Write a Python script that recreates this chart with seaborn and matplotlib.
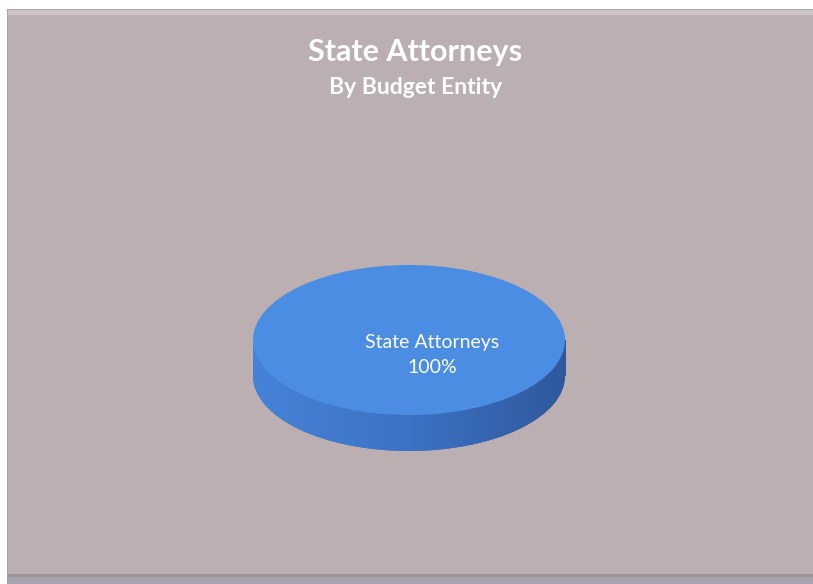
import numpy as np
import matplotlib
matplotlib.use("Agg")
import matplotlib.pyplot as plt
from matplotlib.patches import Rectangle
import seaborn as sns

# Budget share by entity
entities = ["State Attorneys"]
shares = [100.0]
title = "State Attorneys"
subtitle = "By Budget Entity"

sns.set_theme(style="white")
plt.rcParams["font.family"] = ["Lato", "DejaVu Sans"]

W, H = 813, 584
fig = plt.figure(figsize=(W / 100, H / 100), dpi=100, facecolor="white")

# Panel behind the chart
def px_rect(x0, y0, x1, y1, color, z=0):
    fig.patches.append(Rectangle((x0 / W, 1 - y1 / H), (x1 - x0) / W, (y1 - y0) / H,
                                 transform=fig.transFigure, facecolor=color,
                                 edgecolor="none", zorder=z))

px_rect(7, 9, W, H, "#a8a2b0", -3)
px_rect(8, 10, W, 576, "#bbafb1", -2)
px_rect(8, 10, W, 15, "#cdc4c6", -1)
px_rect(8, 574, W, 577, "#9d9298", -1)

fig.text(415 / W, 1 - 52 / H, title, color="white", fontsize=22, fontweight="bold",
         ha="center", va="center")
fig.text(416 / W, 1 - 88 / H, subtitle, color="white", fontsize=16.5, fontweight="bold",
         ha="center", va="center")

# Pie geometry (pixels)
cx, cy = 409, 340          # top face centre
rx, ry = 156, 75           # ellipse radii
depth = 36                 # side thickness
d = depth / ry             # thickness in data units

ax_left = (cx - rx) / W
ax_w = 2 * rx / W
ax_bottom = (H - (cy + ry + depth)) / H
ax_h = (2 * ry + depth) / H
ax = fig.add_axes([ax_left, ax_bottom, ax_w, ax_h])
ax.set_zorder(5)
ax.patch.set_alpha(0)

top_color = "#4b8de2"

# Side of the disc: bottom face plus the band up to the top face, shaded left to right
grad = np.linspace(0, 1, 256)[None, :]
cmap = matplotlib.colors.LinearSegmentedColormap.from_list(
    "side", ["#4683d8", "#3d72c4", "#2f589c"])
base, _ = ax.pie(shares, radius=1.0, center=(0, -d), colors=["#3f74c4"],
                 wedgeprops=dict(linewidth=0), normalize=True)
im1 = ax.imshow(grad, cmap=cmap, extent=(-1, 1, -1 - d, 1), aspect="auto", zorder=2)
im1.set_clip_path(base[0])
band = Rectangle((-1, -d), 2, d, transform=ax.transData)
im2 = ax.imshow(grad, cmap=cmap, extent=(-1, 1, -1 - d, 1), aspect="auto", zorder=2)
im2.set_clip_path(band)

# Top face with the label
wedges, texts, autotexts = ax.pie(
    shares, radius=1.0, center=(0, 0), colors=[top_color], startangle=126,
    autopct=lambda p: f"{entities[0]}\n{p:.0f}%", pctdistance=0.25,
    wedgeprops=dict(linewidth=0, zorder=3), normalize=True,
    textprops=dict(color="white", fontsize=14, linespacing=1.6))
for t in autotexts:
    t.set_zorder(4)
    t.set_ha("center")

ax.set_aspect("auto")
ax.set_xlim(-1, 1)
ax.set_ylim(-1 - d, 1)
ax.axis("off")

fig.savefig("out.png", dpi=100, facecolor="white")
